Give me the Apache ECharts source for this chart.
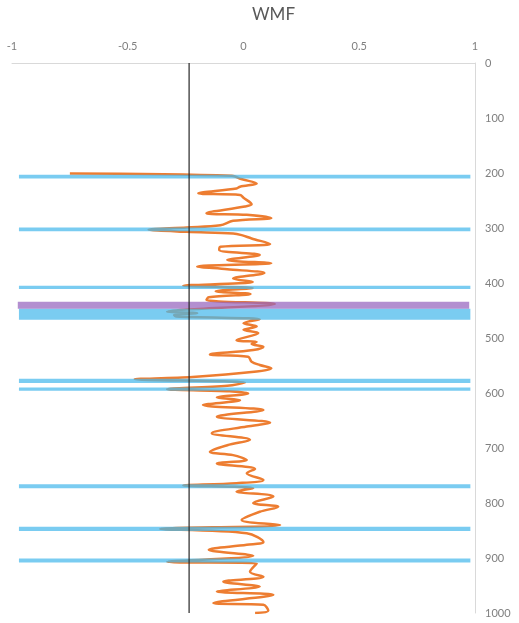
<!DOCTYPE html>
<html>
<head>
<meta charset="utf-8">
<script src="https://cdn.jsdelivr.net/npm/echarts@6/dist/echarts.min.js"></script>
<style>
html,body{margin:0;padding:0;background:#fff;}
#chart{width:519px;height:623px;}
</style>
</head>
<body>
<div id="chart"></div>
<script>
// Depth values (y) and WMF values (x) of the orange curve
var depths = [201,205,211,219,225,228,237,240,245,257,261,273,276,282,287,295,299,303,307,310,313,319,329,334,340,349,358,364,370,375,382,392,398,405,409,415,420,426,431,438,452,455,458,461,466,473,479,485,491,504,507,511,516,522,530,534,543,549,555,561,571,575,581,587,593,597,601,608,613,622,631,643,654,661,673,685,695,707,713,722,728,738,746,758,764,768,773,779,788,800,807,816,831,840,847,855,871,876,885,896,907,910,925,934,943,952,961,967,982,985,996,1000];
var wmf = [-0.75,-0.05,-0.01,0.057,-0.015,-0.03,-0.195,-0.015,0.0,0.035,0.006,-0.16,0.014,0.12,-0.045,-0.10,-0.245,-0.41,-0.245,-0.045,-0.008,0.035,0.115,-0.10,-0.105,0.07,-0.07,0.12,-0.20,-0.07,0.09,-0.045,0.04,-0.26,0.04,-0.12,0.03,-0.15,-0.16,0.135,-0.33,-0.20,-0.30,-0.29,0.07,0.0,0.057,0.0,0.064,-0.03,0.057,0.035,0.086,0.042,-0.145,0.02,0.035,0.07,0.12,0.057,-0.22,-0.47,0.006,-0.07,-0.33,-0.06,0.02,-0.115,-0.015,-0.175,0.086,-0.115,0.115,0.014,-0.137,0.028,-0.07,-0.145,-0.045,0.014,-0.115,0.05,0.014,0.086,-0.03,-0.26,0.042,-0.03,0.129,0.042,0.15,0.07,-0.008,0.158,-0.36,0.014,0.086,0.014,-0.15,0.042,-0.33,0.057,0.028,0.086,-0.087,0.07,-0.115,0.129,-0.13,0.086,0.107,0.05];

// Horizontal blue bands: [top depth, bottom depth]
var blueBandTop = [203,299,405,447,574,590,766,843,901];
var blueBandBottom = [210,306,411,467,582,596,773,851,908];
var blueBandLeft = -0.97;
var blueBandRight = 0.98;

// Purple band
var purpleBandTop = [434];
var purpleBandBottom = [447];
var purpleBandLeft = -0.975;
var purpleBandRight = 0.975;

// Vertical reference line
var cutoff = -0.235;
var cutoffDepths = [0, 1000];

// Axis ticks
var xTicks = [-1, -0.5, 0, 0.5, 1];
var yMin = 0, yMax = 1000, yStep = 100;

var curveData = depths.map(function(d, i){ return [wmf[i], d]; });
var blueData = blueBandTop.map(function(t, i){ return [blueBandLeft, blueBandRight, t, blueBandBottom[i]]; });
var purpleData = purpleBandTop.map(function(t, i){ return [purpleBandLeft, purpleBandRight, t, purpleBandBottom[i]]; });
var cutoffData = cutoffDepths.map(function(d){ return [cutoff, d]; });

function bandRenderer(color){
  return function(params, api){
    var p0 = api.coord([api.value(0), api.value(2)]);
    var p1 = api.coord([api.value(1), api.value(3)]);
    return {
      type: 'rect',
      shape: {x: p0[0], y: p0[1], width: p1[0]-p0[0], height: p1[1]-p0[1]},
      style: {fill: color}
    };
  };
}

var chart = echarts.init(document.getElementById('chart'), null, {renderer:'canvas'});
var font = 'Lato, "Open Sans", "Liberation Sans", sans-serif';
chart.setOption({
  animation: false,
  backgroundColor: '#ffffff',
  title: {
    text: 'WMF',
    left: 247, top: 1,
    textStyle: {fontFamily: font, fontSize: 17, fontWeight: 'normal', color: '#595959'}
  },
  grid: {left: 12, right: 44, top: 63, bottom: 10},
  xAxis: {
    type: 'value', position: 'top',
    min: xTicks[0], max: xTicks[xTicks.length-1], interval: 0.5,
    axisLine: {show: true, onZero: false, lineStyle: {color: '#d9d9d9', width: 1}},
    axisTick: {show: false},
    splitLine: {show: false},
    axisLabel: {color: '#7f7f7f', fontFamily: font, fontSize: 11, margin: 11,
      formatter: function(v){ return String(v); }}
  },
  yAxis: {
    type: 'value', position: 'right', inverse: true,
    min: yMin, max: yMax, interval: yStep,
    axisLine: {show: true, onZero: false, lineStyle: {color: '#d9d9d9', width: 1}},
    axisTick: {show: false},
    splitLine: {show: false},
    axisLabel: {color: '#7f7f7f', fontFamily: font, fontSize: 11, margin: 10, align: 'left',
      formatter: function(v){ return String(v); }}
  },
  series: [
    {
      type: 'line', data: curveData, showSymbol: false, smooth: 0.35,
      lineStyle: {color: '#ed7d31', width: 2.5}, z: 2
    },
    {
      type: 'custom', data: blueData, renderItem: bandRenderer('rgba(70,185,235,0.72)'), z: 3
    },
    {
      type: 'custom', data: purpleData, renderItem: bandRenderer('rgba(150,100,190,0.72)'), z: 3
    },
    {
      type: 'line', data: cutoffData, showSymbol: false,
      lineStyle: {color: '#262626', width: 1.2}, z: 4
    }
  ]
});
</script>
</body>
</html>
